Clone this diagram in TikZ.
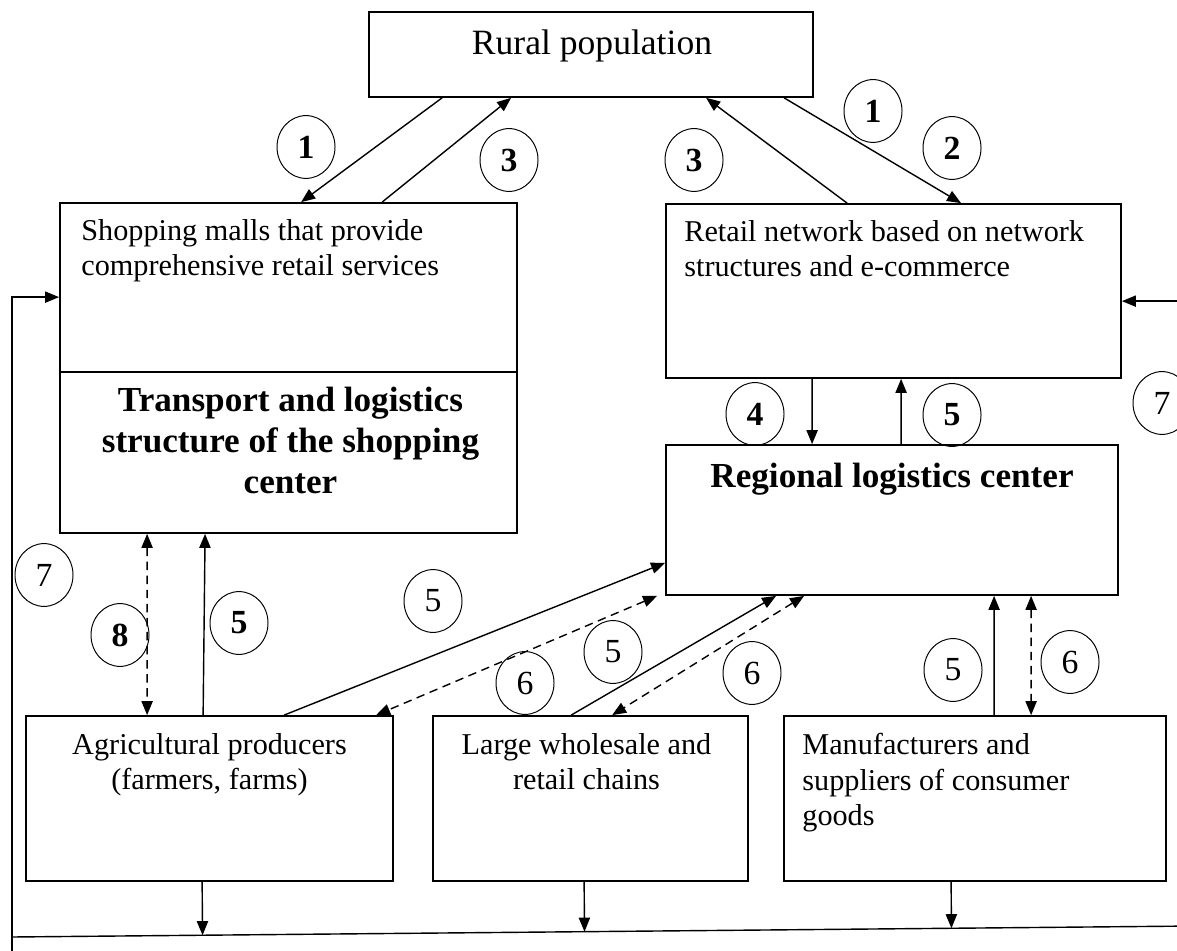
\documentclass[tikz,border=0pt]{standalone}
\usepackage{fontspec}
\setmainfont{Liberation Serif}
\usetikzlibrary{arrows.meta,calc,shapes.geometric}

\begin{document}
\begin{tikzpicture}[x=0.025cm,y=-0.025cm]
    \tikzstyle{box}=[draw,line width=1.2pt,inner sep=0pt]
    \tikzstyle{txt}=[inner sep=0pt,font=\fontsize{21.5}{25.2}\selectfont]
    \tikzstyle{bigtxt}=[inner sep=0pt,align=center,font=\fontsize{25}{29}\selectfont\bfseries]
    \tikzstyle{num}=[draw,ellipse,line width=0.7pt,inner sep=0pt,minimum width=1.45cm,
    minimum height=1.57cm,font=\fontsize{24}{24}\selectfont]
    \tikzstyle{bnum}=[num,font=\fontsize{24}{24}\selectfont\bfseries]
    \tikzstyle{flow}=[line width=1pt,-{Triangle[length=10pt,width=8pt]}]
    \tikzstyle{link}=[line width=1pt,dash pattern=on 6pt off 4pt,
    {Triangle[length=10pt,width=8pt]}-{Triangle[length=10pt,width=8pt]}]

    \useasboundingbox (0,0) rectangle (1177,951);
    \clip (0,0) rectangle (1177,951);

    %% Boxes
    \node [box,minimum width=11.1cm,minimum height=2.125cm] (rural) at (591,54.5) {};
    \node [box,minimum width=11.425cm,minimum height=4.225cm] (mall) at (288.5,287.5) {};
    \node [box,minimum width=11.425cm,minimum height=4.025cm] (tls) at (288.5,452.5) {};
    \node [box,minimum width=11.375cm,minimum height=4.35cm] (retail) at (893.5,291) {};
    \node [box,minimum width=11.3cm,minimum height=3.75cm] (rlc) at (892,520) {};
    \node [box,minimum width=9.175cm,minimum height=4.125cm] (agri) at (209.5,798.5) {};
    \node [box,minimum width=7.875cm,minimum height=4.125cm] (whole) at (590.5,798.5) {};
    \node [box,minimum width=9.55cm,minimum height=4.125cm] (manuf) at (975,798.5) {};

    %% Box texts
    \node [inner sep=0pt,anchor=base,font=\fontsize{25.3}{29}\selectfont] (ruralT)
        at ($(rural.north)+(1,43)$) {Rural population};
    \node [txt,anchor=north west,align=left] (mallT) at ($(mall.north west)+(22,17)$)
        {Shopping malls that provide\\comprehensive retail services};
    \node [bigtxt,anchor=north] (tlsT) at ($(tls.north)+(2,16)$)
        {Transport and logistics\\structure of the shopping\\center};
    \node [txt,anchor=north west,align=left] (retailT) at ($(retail.north west)+(19,17)$)
        {Retail network based on network\\structures and e-commerce};
    \node [bigtxt,anchor=north] (rlcT) at ($(rlc.north)+(0,19)$) {Regional logistics center};
    \node [txt,anchor=north,align=center] (agriT) at ($(agri.north)+(0,18)$)
        {Agricultural producers\\(farmers, farms)};
    \node [txt,anchor=north,align=center] (wholeT) at ($(whole.north)+(-4,18)$)
        {Large wholesale and\\retail chains};
    \node [txt,anchor=north west,align=left] (manufT) at ($(manuf.north west)+(19,18)$)
        {Manufacturers and\\suppliers of consumer\\goods};

    %% Numbered markers
    \node [bnum] (c1a) at (306,147) {1};
    \node [bnum] (c3a) at (509,160) {3};
    \node [bnum] (c3b) at (694,160) {3};
    \node [bnum] (c1b) at (873,111) {1};
    \node [bnum] (c2) at (952,148) {2};
    \node [bnum] (c4) at (755,414) {4};
    \node [bnum] (c5a) at (952,415) {5};
    \node [num] (c7r) at (1162,403) {7};
    \node [num] (c7l) at (44,575) {7};
    \node [bnum] (c8) at (120,635) {8};
    \node [bnum] (c5b) at (239,623) {5};
    \node [num] (c5c) at (433,601) {5};
    \node [num] (c6a) at (525,683) {6};
    \node [num] (c5d) at (613,652) {5};
    \node [num] (c6b) at (752,673) {6};
    \node [num] (c5e) at (953,670) {5};
    \node [num] (c6c) at (1070,662) {6};

    %% Rural population <-> retail formats
    \draw [flow] ($(rural.south west)+(74,0)$) -- ($(mall.north west)+(242,0)$);
    \draw [flow] ($(mall.north west)+(323,0)$) -- ($(rural.south west)+(143,0)$);
    \draw [flow] ($(retail.north west)+(182,0)$) -- ($(rural.south west)+(338,0)$);
    \draw [flow] ($(rural.south west)+(416,0)$) -- ($(retail.north west)+(296,0)$);

    %% Retail network <-> regional center
    \draw [flow] ($(retail.south west)+(147,0)$) -- ($(rlc.north west)+(147,0)$);
    \draw [flow] ($(rlc.north west)+(236,0)$) -- ($(retail.south west)+(236,0)$);

    %% Producers and chains
    \draw [link] ($(tls.south west)+(88,0)$) -- ($(agri.north west)+(122,0)$);
    \draw [flow] ($(agri.north west)+(178,0)$) -- ($(tls.south west)+(146,0)$);
    \draw [flow] ($(agri.north west)+(259,0)$) -- ($(rlc.south west)+(0,-33)$);
    \draw [link] ($(rlc.south west)+(-8,0)$) -- ($(agri.north west)+(351,0)$);
    \draw [flow] ($(whole.north west)+(139,0)$) -- ($(rlc.south west)+(111,0)$);
    \draw [link] ($(rlc.south west)+(139,0)$) -- ($(whole.north west)+(180,0)$);
    \draw [flow] ($(manuf.north west)+(211,0)$) -- ($(rlc.south west)+(329,0)$);
    \draw [link] ($(rlc.south west)+(366,0)$) -- ($(manuf.north west)+(248,0)$);

    %% Feedback loop along the bottom
    \coordinate (loopL) at (12,960);
    \coordinate (busL) at (12,937);
    \coordinate (busR) at (1195,926);
    \coordinate (agriOut) at ($(agri.south west)+(177,0)$);
    \coordinate (wholeOut) at ($(whole.south west)+(152,0)$);
    \coordinate (manufOut) at ($(manuf.south west)+(168,0)$);
    \draw [line width=1pt] (busL) -- (busR);
    \draw [flow] (loopL) |- ($(mall.north west)+(0,95)$);
    \draw [flow] (busR) |- ($(retail.north east)+(0,98)$);
    \draw [flow] (agriOut) -- ($(busL)!(agriOut)!(busR)$);
    \draw [flow] (wholeOut) -- ($(busL)!(wholeOut)!(busR)$);
    \draw [flow] (manufOut) -- ($(busL)!(manufOut)!(busR)$);
\end{tikzpicture}
\end{document}
